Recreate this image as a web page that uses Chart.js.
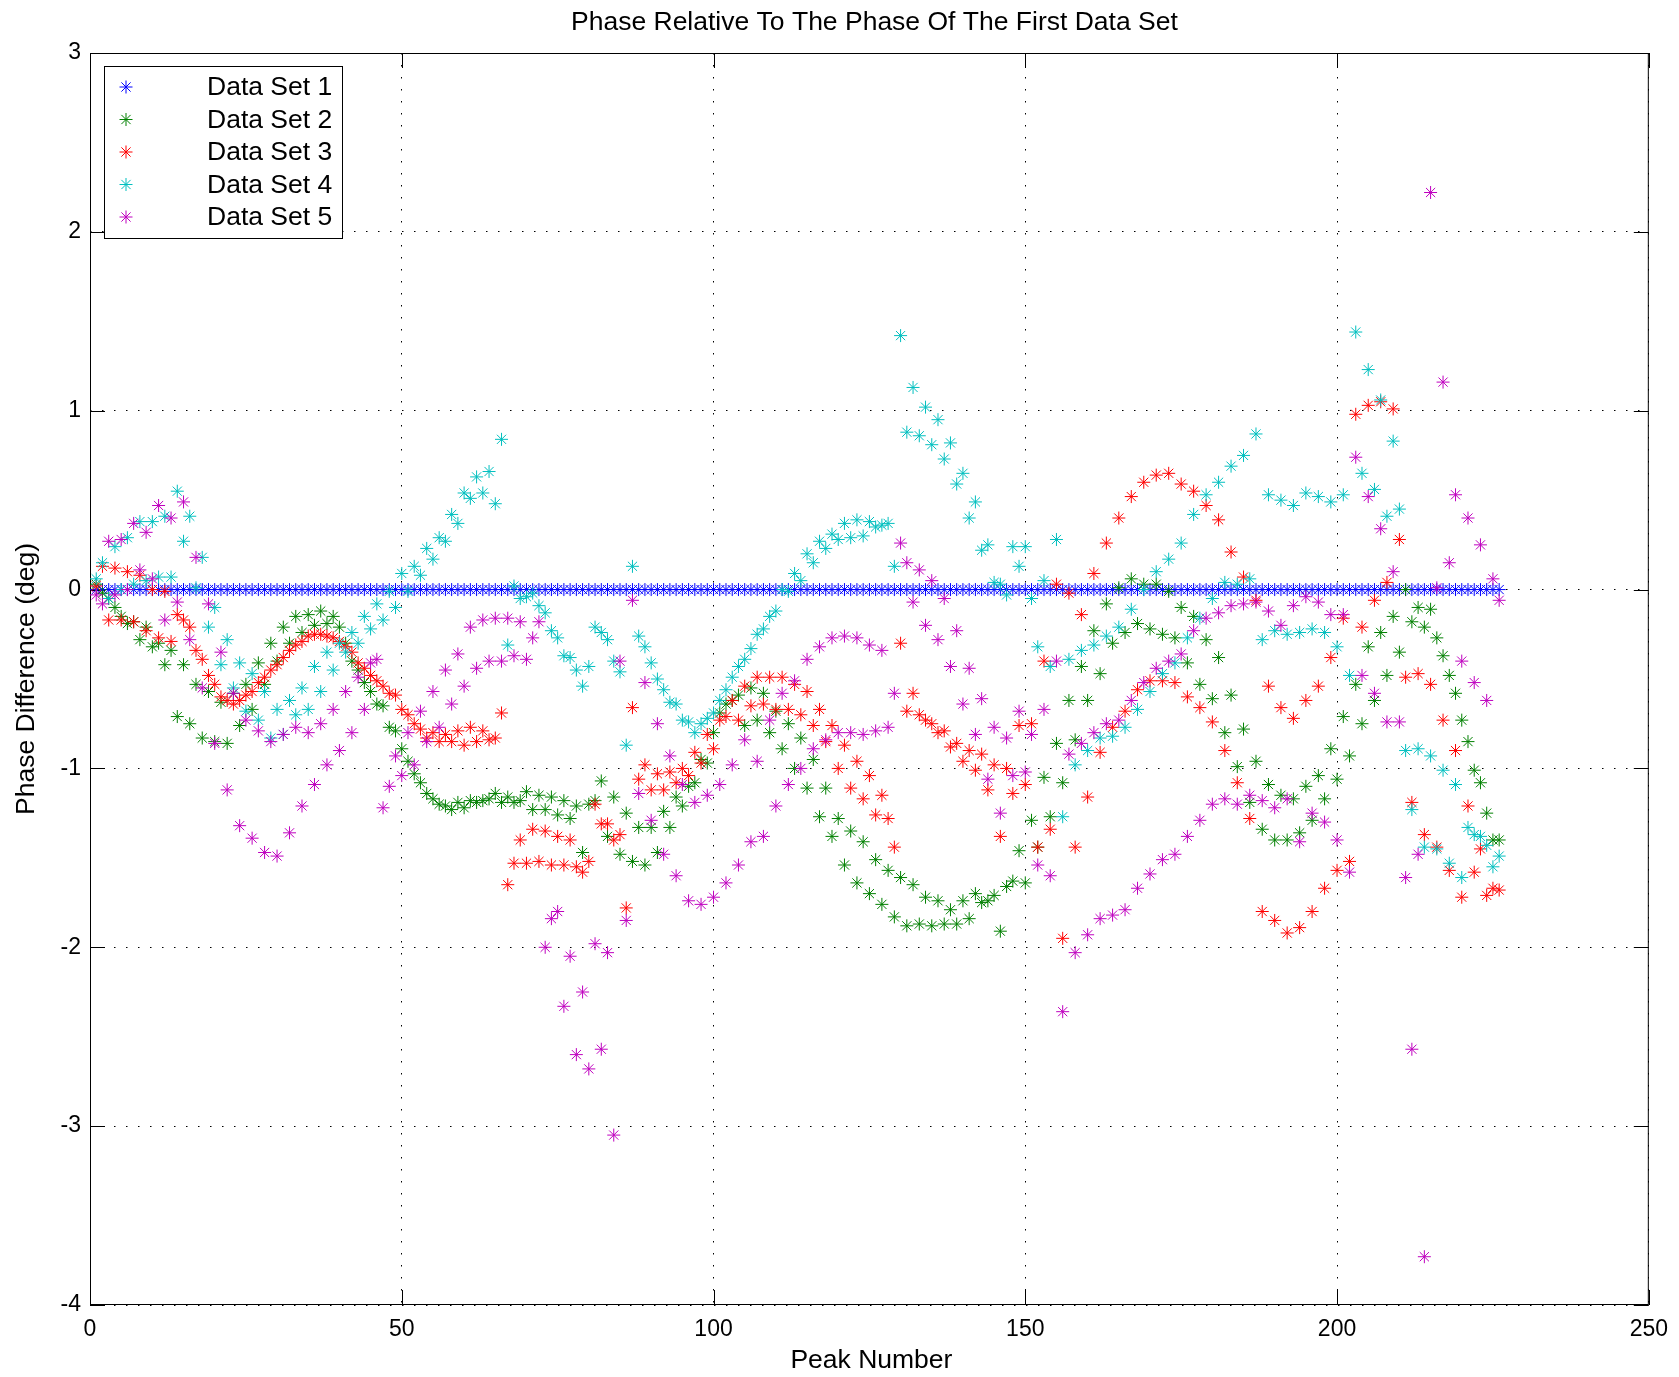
<!DOCTYPE html>
<html lang="en">
<head>
<meta charset="UTF-8">
<title>Phase Relative To The Phase Of The First Data Set</title>
<script src="https://cdn.jsdelivr.net/npm/chart.js"></script>
<style>
  html, body { margin: 0; padding: 0; background: #fff; }
  canvas { display: block; }
</style>
</head>
<body>
<canvas id="chart" width="1679" height="1377"></canvas>
<script>
// phase difference (deg) for peaks 1..226, one array per data set
const dataSet1 = [
  0, 0, 0, 0, 0, 0, 0, 0, 0, 0,  0, 0, 0, 0, 0, 0, 0, 0, 0, 0,
  0, 0, 0, 0, 0, 0, 0, 0, 0, 0,  0, 0, 0, 0, 0, 0, 0, 0, 0, 0,
  0, 0, 0, 0, 0, 0, 0, 0, 0, 0,  0, 0, 0, 0, 0, 0, 0, 0, 0, 0,
  0, 0, 0, 0, 0, 0, 0, 0, 0, 0,  0, 0, 0, 0, 0, 0, 0, 0, 0, 0,
  0, 0, 0, 0, 0, 0, 0, 0, 0, 0,  0, 0, 0, 0, 0, 0, 0, 0, 0, 0,
  0, 0, 0, 0, 0, 0, 0, 0, 0, 0,  0, 0, 0, 0, 0, 0, 0, 0, 0, 0,
  0, 0, 0, 0, 0, 0, 0, 0, 0, 0,  0, 0, 0, 0, 0, 0, 0, 0, 0, 0,
  0, 0, 0, 0, 0, 0, 0, 0, 0, 0,  0, 0, 0, 0, 0, 0, 0, 0, 0, 0,
  0, 0, 0, 0, 0, 0, 0, 0, 0, 0,  0, 0, 0, 0, 0, 0, 0, 0, 0, 0,
  0, 0, 0, 0, 0, 0, 0, 0, 0, 0,  0, 0, 0, 0, 0, 0, 0, 0, 0, 0,
  0, 0, 0, 0, 0, 0, 0, 0, 0, 0,  0, 0, 0, 0, 0, 0, 0, 0, 0, 0,
  0, 0, 0, 0, 0, 0
];

const dataSet2 = [
  0.03, -0.02, -0.05, -0.10, -0.15, -0.19, -0.18, -0.28, -0.21, -0.32,
  -0.30, -0.42, -0.34, -0.71, -0.42, -0.75, -0.53, -0.83, -0.57, -0.85,
  -0.63, -0.86, -0.58, -0.76, -0.53, -0.67, -0.41, -0.53, -0.30, -0.40,
  -0.21, -0.30, -0.15, -0.24, -0.14, -0.20, -0.12, -0.19, -0.15, -0.21,
  -0.30, -0.40, -0.45, -0.52, -0.57, -0.64, -0.65, -0.77, -0.79, -0.89,
  -0.96, -1.03, -1.08, -1.14, -1.17, -1.20, -1.21, -1.23, -1.19, -1.22,
  -1.18, -1.19, -1.18, -1.17, -1.14, -1.19, -1.16, -1.19, -1.18, -1.13,
  -1.23, -1.15, -1.23, -1.16, -1.26, -1.18, -1.28, -1.21, -1.47, -1.20,
  -1.18, -1.07, -1.38, -1.16, -1.48, -1.25, -1.52, -1.33, -1.54, -1.33,
  -1.47, -1.24, -1.33, -1.16, -1.21, -1.10, -1.08, -0.95, -0.97, -0.80,
  -0.69, -0.64, -0.62, -0.59, -0.76, -0.55, -0.73, -0.58, -0.80, -0.68,
  -0.89, -0.75, -1.00, -0.83, -1.11, -0.95, -1.27, -1.11, -1.38, -1.28,
  -1.54, -1.35, -1.64, -1.41, -1.70, -1.51, -1.76, -1.57, -1.83, -1.61,
  -1.88, -1.65, -1.87, -1.72, -1.88, -1.74, -1.87, -1.79, -1.87, -1.74,
  -1.84, -1.70, -1.75, -1.74, -1.71, -1.91, -1.66, -1.63, -1.46, -1.64,
  -1.29, -1.44, -1.05, -1.27, -0.86, -1.08, -0.62, -0.84, -0.43, -0.62,
  -0.23, -0.47, -0.08, -0.30, 0.01, -0.24, 0.06, -0.19, 0.03, -0.22,
  0.03, -0.25, -0.01, -0.27, -0.10, -0.41, -0.15, -0.53, -0.28, -0.61,
  -0.38, -0.80, -0.59, -0.99, -0.78, -1.19, -0.96, -1.34, -1.09, -1.40,
  -1.15, -1.40, -1.17, -1.36, -1.10, -1.29, -1.04, -1.17, -0.89, -1.06,
  -0.71, -0.93, -0.53, -0.75, -0.32, -0.62, -0.24, -0.48, -0.15, -0.35,
  0.00, -0.18, -0.10, -0.21, -0.11, -0.27, -0.37, -0.48, -0.58, -0.73,
  -0.85, -1.01, -1.08, -1.25, -1.40, -1.40
];

const dataSet3 = [
  0.02, 0.13, -0.17, 0.12, -0.17, 0.10, -0.18, 0.08, -0.23, 0.00,
  -0.27, -0.01, -0.29, -0.14, -0.17, -0.21, -0.34, -0.39, -0.48, -0.53,
  -0.60, -0.62, -0.64, -0.62, -0.59, -0.57, -0.52, -0.49, -0.45, -0.42,
  -0.38, -0.34, -0.31, -0.29, -0.26, -0.25, -0.25, -0.26, -0.27, -0.29,
  -0.32, -0.35, -0.41, -0.44, -0.48, -0.51, -0.54, -0.58, -0.59, -0.67,
  -0.70, -0.75, -0.78, -0.83, -0.80, -0.85, -0.81, -0.85, -0.79, -0.87,
  -0.77, -0.85, -0.79, -0.84, -0.83, -0.69, -1.65, -1.53, -1.40, -1.53,
  -1.34, -1.52, -1.35, -1.54, -1.38, -1.54, -1.40, -1.55, -1.58, -1.52,
  -1.20, -1.31, -1.31, -1.40, -1.37, -1.78, -0.66, -1.06, -0.98, -1.12,
  -1.03, -1.12, -1.02, -1.08, -1.00, -1.04, -0.91, -0.97, -0.81, -0.89,
  -0.73, -0.71, -0.62, -0.73, -0.54, -0.65, -0.49, -0.64, -0.49, -0.67,
  -0.49, -0.67, -0.53, -0.70, -0.57, -0.76, -0.67, -0.85, -0.76, -1.00,
  -0.87, -1.11, -0.96, -1.17, -1.04, -1.26, -1.15, -1.28, -1.44, -0.30,
  -0.68, -0.58, -0.70, -0.73, -0.75, -0.80, -0.79, -0.88, -0.86, -0.96,
  -0.90, -1.01, -0.92, -1.12, -0.98, -1.38, -1.00, -1.14, -0.76, -1.09,
  -0.75, -1.44, -0.40, -1.34, 0.03, -1.95, -0.02, -1.44, -0.14, -1.16,
  0.09, -0.91, 0.26, -0.77, 0.40, -0.68, 0.52, -0.56, 0.60, -0.51,
  0.64, -0.51, 0.65, -0.52, 0.59, -0.60, 0.55, -0.66, 0.47, -0.74,
  0.39, -0.90, 0.21, -1.08, 0.07, -1.28, -0.06, -1.80, -0.54, -1.85,
  -0.66, -1.92, -0.72, -1.89, -0.62, -1.80, -0.54, -1.67, -0.38, -1.57,
  -0.16, -1.52, 0.98, -0.21, 1.03, -0.06, 1.05, 0.04, 1.01, 0.28,
  -0.49, -1.19, -0.47, -1.37, -0.53, -1.44, -0.73, -1.57, -0.90, -1.72,
  -1.21, -1.58, -1.45, -1.71, -1.67, -1.68
];

const dataSet4 = [
  0.06, 0.15, -0.05, 0.24, 0.00, 0.29, 0.03, 0.38, 0.05, 0.38,
  0.07, 0.41, 0.07, 0.55, 0.27, 0.41, 0.01, 0.18, -0.21, -0.10,
  -0.42, -0.28, -0.55, -0.41, -0.68, -0.47, -0.73, -0.57, -0.83, -0.67,
  -0.81, -0.62, -0.70, -0.55, -0.67, -0.43, -0.57, -0.35, -0.45, -0.30,
  -0.35, -0.24, -0.30, -0.15, -0.22, -0.08, -0.17, -0.01, -0.10, 0.09,
  -0.01, 0.13, 0.08, 0.23, 0.17, 0.29, 0.27, 0.42, 0.37, 0.54,
  0.51, 0.63, 0.54, 0.66, 0.48, 0.84, -0.31, 0.02, -0.05, -0.04,
  -0.02, -0.09, -0.13, -0.23, -0.27, -0.37, -0.38, -0.45, -0.54, -0.43,
  -0.21, -0.24, -0.28, -0.40, -0.46, -0.87, 0.13, -0.26, -0.32, -0.41,
  -0.50, -0.56, -0.63, -0.64, -0.73, -0.74, -0.80, -0.75, -0.72, -0.69,
  -0.62, -0.56, -0.49, -0.43, -0.39, -0.33, -0.25, -0.22, -0.15, -0.12,
  0.00, -0.01, 0.09, 0.05, 0.20, 0.15, 0.27, 0.23, 0.31, 0.28,
  0.37, 0.29, 0.39, 0.30, 0.38, 0.35, 0.36, 0.37, 0.13, 1.42,
  0.88, 1.13, 0.86, 1.02, 0.81, 0.95, 0.73, 0.82, 0.59, 0.65,
  0.40, 0.49, 0.22, 0.25, 0.04, 0.03, -0.03, 0.24, 0.13, 0.24,
  -0.05, -0.32, 0.05, -0.43, 0.28, -1.27, -0.39, -0.98, -0.34, -0.90,
  -0.31, -0.83, -0.26, -0.82, -0.21, -0.77, -0.11, -0.67, 0.00, -0.57,
  0.10, -0.47, 0.17, -0.41, 0.26, -0.27, 0.42, -0.16, 0.53, -0.05,
  0.60, 0.04, 0.69, 0.03, 0.75, 0.06, 0.87, -0.28, 0.53, -0.23,
  0.50, -0.25, 0.47, -0.24, 0.54, -0.22, 0.52, -0.24, 0.49, -0.32,
  0.53, -0.48, 1.44, 0.65, 1.23, 0.56, 1.06, 0.41, 0.83, 0.45,
  -0.90, -1.23, -0.89, -1.44, -0.93, -1.45, -1.01, -1.53, -1.09, -1.61,
  -1.33, -1.37, -1.38, -1.43, -1.55, -1.49
];

const dataSet5 = [
  -0.03, -0.08, 0.27, -0.03, 0.28, 0.00, 0.37, 0.11, 0.32, 0.06,
  0.47, -0.17, 0.40, -0.07, 0.49, -0.28, 0.18, -0.55, -0.08, -0.86,
  -0.35, -1.12, -0.58, -1.32, -0.73, -1.39, -0.79, -1.47, -0.85, -1.49,
  -0.81, -1.36, -0.77, -1.21, -0.80, -1.09, -0.75, -0.98, -0.67, -0.90,
  -0.57, -0.80, -0.49, -0.67, -0.41, -0.39, -1.22, -1.10, -0.93, -1.04,
  -0.80, -0.98, -0.68, -0.85, -0.57, -0.77, -0.45, -0.64, -0.36, -0.54,
  -0.21, -0.44, -0.17, -0.40, -0.16, -0.40, -0.16, -0.37, -0.18, -0.39,
  -0.27, -0.18, -2.00, -1.84, -1.80, -2.33, -2.05, -2.60, -2.25, -2.68,
  -1.98, -2.57, -2.03, -3.05, -0.40, -1.85, -0.06, -1.14, -0.52, -1.29,
  -0.75, -1.48, -0.93, -1.60, -1.09, -1.74, -1.19, -1.76, -1.15, -1.72,
  -1.09, -1.64, -0.98, -1.54, -0.84, -1.41, -0.96, -1.38, -0.73, -1.21,
  -0.58, -1.09, -0.51, -1.00, -0.39, -0.89, -0.32, -0.84, -0.27, -0.80,
  -0.26, -0.80, -0.27, -0.81, -0.31, -0.79, -0.34, -0.77, -0.58, 0.26,
  0.15, -0.07, 0.11, -0.20, 0.05, -0.28, -0.05, -0.43, -0.23, -0.64,
  -0.44, -0.81, -0.61, -1.06, -0.77, -1.25, -0.83, -1.04, -0.68, -1.02,
  -0.81, -1.54, -0.67, -1.60, -0.40, -2.36, -0.92, -2.03, -0.86, -1.93,
  -0.80, -1.84, -0.75, -1.82, -0.73, -1.79, -0.62, -1.67, -0.52, -1.59,
  -0.44, -1.51, -0.40, -1.48, -0.36, -1.38, -0.23, -1.29, -0.16, -1.20,
  -0.13, -1.17, -0.09, -1.20, -0.08, -1.15, -0.07, -1.18, -0.12, -1.22,
  -0.20, -1.17, -0.09, -1.41, -0.04, -1.25, -0.07, -1.30, -0.14, -1.40,
  -0.14, -1.58, 0.74, -0.48, 0.52, -0.58, 0.34, -0.74, 0.10, -0.74,
  -1.61, -2.57, -1.48, -3.73, 2.22, 0.01, 1.16, 0.15, 0.53, -0.40,
  0.40, -0.52, 0.25, -0.62, 0.06, -0.06
];

const seriesNames = ['Data Set 1', 'Data Set 2', 'Data Set 3', 'Data Set 4', 'Data Set 5'];
const seriesColors = ['#0000ff', '#008000', '#ff0000', '#00bfbf', '#bf00bf'];
const seriesValues = [dataSet1, dataSet2, dataSet3, dataSet4, dataSet5];
const xTicks = [0, 50, 100, 150, 200, 250];
const yTicks = [-4, -3, -2, -1, 0, 1, 2, 3];

const FONT_FAMILY = '"Liberation Sans", Arial, Helvetica, sans-serif';
const LABEL_FONT = '26.5px ' + FONT_FAMILY;

// eight-armed asterisk, same shape as the plotted markers
function drawStar(ctx, x, y, r) {
  const d = r * Math.SQRT1_2;
  ctx.beginPath();
  ctx.moveTo(x - r, y); ctx.lineTo(x + r, y);
  ctx.moveTo(x, y - r); ctx.lineTo(x, y + r);
  ctx.moveTo(x - d, y - d); ctx.lineTo(x + d, y + d);
  ctx.moveTo(x - d, y + d); ctx.lineTo(x + d, y - d);
  ctx.stroke();
}

// axes box with inward ticks, title, axis labels and the boxed legend
const frame = {
  id: 'frame',
  beforeDatasetsDraw(chart) {
    const { ctx, chartArea: a, scales: { x, y } } = chart;
    const tick = 15;
    ctx.save();
    ctx.strokeStyle = '#000';
    ctx.lineWidth = 1;
    ctx.strokeRect(a.left + 0.5, a.top + 0.5, a.right - a.left - 1, a.bottom - a.top - 1);
    ctx.beginPath();
    xTicks.forEach(v => {
      const px = Math.round(x.getPixelForValue(v)) + 0.5;
      ctx.moveTo(px, a.bottom); ctx.lineTo(px, a.bottom - tick);
      ctx.moveTo(px, a.top); ctx.lineTo(px, a.top + tick);
    });
    yTicks.forEach(v => {
      const py = Math.round(y.getPixelForValue(v)) + 0.5;
      ctx.moveTo(a.left, py); ctx.lineTo(a.left + tick, py);
      ctx.moveTo(a.right, py); ctx.lineTo(a.right - tick, py);
    });
    ctx.stroke();
    ctx.restore();
  },
  afterDatasetsDraw(chart) {
    const { ctx } = chart;
    ctx.save();
    // legend box
    const box = { left: 104, top: 66, right: 342, bottom: 238 };
    ctx.fillStyle = '#fff';
    ctx.fillRect(box.left, box.top, box.right - box.left, box.bottom - box.top);
    ctx.strokeStyle = '#000';
    ctx.lineWidth = 1;
    ctx.strokeRect(box.left + 0.5, box.top + 0.5, box.right - box.left, box.bottom - box.top);
    ctx.font = LABEL_FONT;
    ctx.textAlign = 'left';
    ctx.textBaseline = 'middle';
    seriesNames.forEach((name, i) => {
      const rowY = 87 + i * 32.5;
      ctx.strokeStyle = seriesColors[i];
      ctx.lineWidth = 1;
      drawStar(ctx, 126, rowY, 6.5);
      ctx.fillStyle = '#000';
      ctx.fillText(name, 207, rowY + 1);
    });
    ctx.restore();
  },
  afterDraw(chart) {
    const { ctx, chartArea: a } = chart;
    const cx = (a.left + a.right) / 2;
    const cy = (a.top + a.bottom) / 2;
    ctx.save();
    ctx.fillStyle = '#000';
    ctx.font = LABEL_FONT;
    ctx.textAlign = 'center';
    ctx.textBaseline = 'middle';
    ctx.fillText('Phase Relative To The Phase Of The First Data Set', cx + 5, 23);
    ctx.fillText('Peak Number', cx + 2, 1361);
    ctx.translate(27, cy);
    ctx.rotate(-Math.PI / 2);
    ctx.fillText('Phase Difference (deg)', 0, 0);
    ctx.restore();
  }
};

const axisCommon = {
  type: 'linear',
  grid: { color: '#000', lineWidth: 1, drawTicks: false },
  border: { display: false, dash: [1.5, 10.5] },
  ticks: { color: '#000', font: { family: FONT_FAMILY, size: 23 }, maxRotation: 0 }
};

new Chart(document.getElementById('chart'), {
  type: 'scatter',
  data: {
    datasets: seriesValues.map((vals, i) => ({
      label: seriesNames[i],
      data: vals.map((v, k) => ({ x: k + 1, y: v })),
      pointStyle: 'star',
      pointRadius: 6.5,
      pointBorderWidth: 1,
      borderColor: seriesColors[i],
      backgroundColor: seriesColors[i],
      order: seriesValues.length - i
    }))
  },
  options: {
    responsive: false,
    animation: false,
    events: [],
    layout: { padding: { top: 53, right: 29, left: 0, bottom: 0 } },
    plugins: {
      legend: { display: false },
      title: { display: false },
      tooltip: { enabled: false }
    },
    scales: {
      x: {
        ...axisCommon,
        min: 0, max: 250,
        ticks: { ...axisCommon.ticks, padding: 11 },
        afterBuildTicks: s => { s.ticks = xTicks.map(v => ({ value: v })); },
        afterFit: s => { s.height = 72; }
      },
      y: {
        ...axisCommon,
        min: -4, max: 3,
        ticks: { ...axisCommon.ticks, padding: 9 },
        afterBuildTicks: s => { s.ticks = yTicks.map(v => ({ value: v })); },
        afterFit: s => { s.width = 90; }
      }
    }
  },
  plugins: [frame]
});
</script>
</body>
</html>
